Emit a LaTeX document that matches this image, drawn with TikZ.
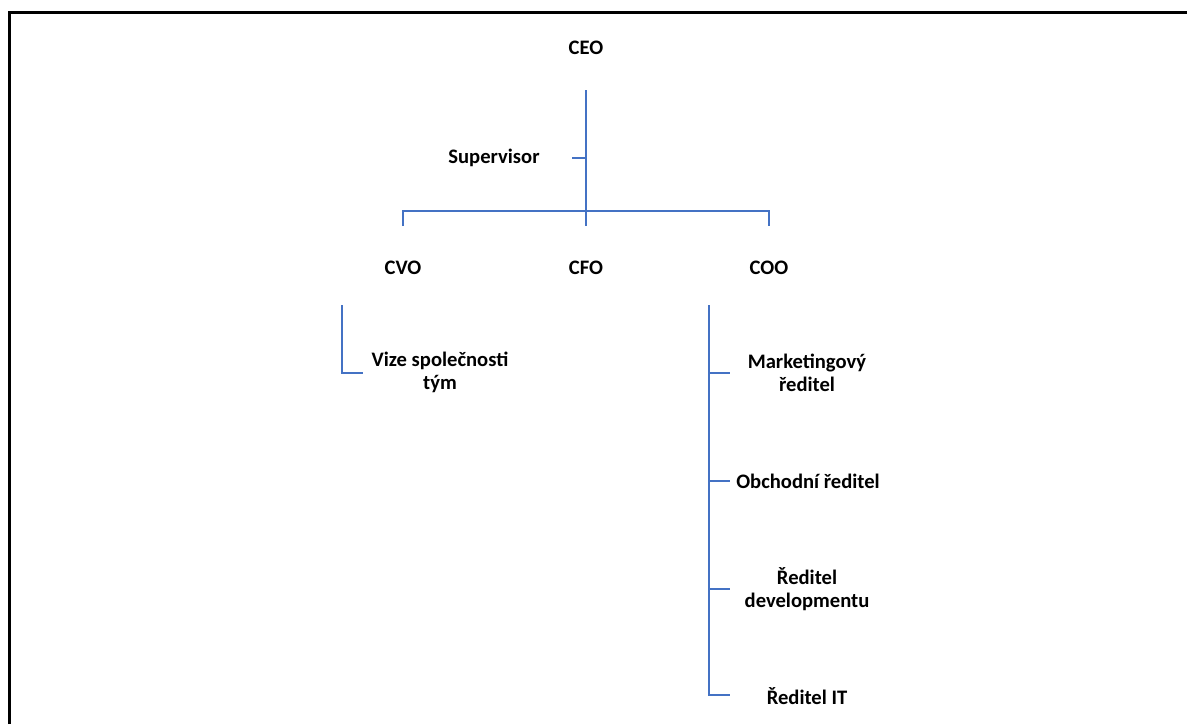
\documentclass[tikz,border=0pt]{standalone}
\usepackage{fontspec}
\setmainfont{Carlito}
\usepackage{xcolor}
\usepackage{tikz}
\usetikzlibrary{positioning}

\definecolor{orgblue}{RGB}{68,114,196}

\begin{document}
\begin{tikzpicture}[x=0.5pt,y=-0.5pt]
		\tikzstyle{role}=[font=\fontsize{10.3}{11.5}\selectfont\bfseries, align=center, inner sep=0pt]
		\tikzstyle{link}=[draw=orgblue, line width=1.4pt]
		
		\useasboundingbox (0,0) rectangle (1187,724);
		\draw[line width=1.2pt] (9.5,724) -- (9.5,12.5) -- (1187,12.5);
		
		\node[role] (ceo)  at (586,48)  {CEO};
		\node[role] (sup)  at (494,158) {Supervisor};
		\node[role] (cvo)  at (403,268) {CVO};
		\node[role] (cfo)  at (586,268) {CFO};
		\node[role] (coo)  at (769,268) {COO};
		\node[role] (vize) at (440,372) {Vize společnosti\\tým};
		\node[role] (mark) at (807,373) {Marketingový\\ředitel};
		\node[role] (obch) at (808,481) {Obchodní ředitel};
		\node[role] (dev)  at (807,589) {Ředitel\\developmentu};
		\node[role] (it)   at (807,696) {Ředitel IT};
		
		\coordinate (ceo-top) at (586,90);
		\coordinate (ceo-bot) at (586,226);
		\coordinate (sup-r)   at (586,158);
		\coordinate (sup-l)   at (572,158);
		\coordinate (bar-l)   at (403,211);
		\coordinate (bar-r)   at (769,211);
		\coordinate (cvo-top) at (342,305);
		\coordinate (cvo-bot) at (342,373);
		\coordinate (vize-l)  at (363,373);
		\coordinate (coo-top) at (709,305);
		\coordinate (coo-bot) at (709,695);
		
		\path[link]
		(ceo-top) -- (ceo-bot)
		(sup-l) -- (sup-r)
		(bar-l |- ceo-bot) -- (bar-l) -- (bar-r) -- (bar-r |- ceo-bot)
		(cvo-top) -- (cvo-bot) -- (vize-l)
		(coo-top) -- (coo-bot) -- ++(21,0)
		(coo-top |- mark) -- ++(21,0)
		(coo-top |- obch) -- ++(21,0)
		(coo-top |- dev)  -- ++(21,0)
		;
\end{tikzpicture}
\end{document}
